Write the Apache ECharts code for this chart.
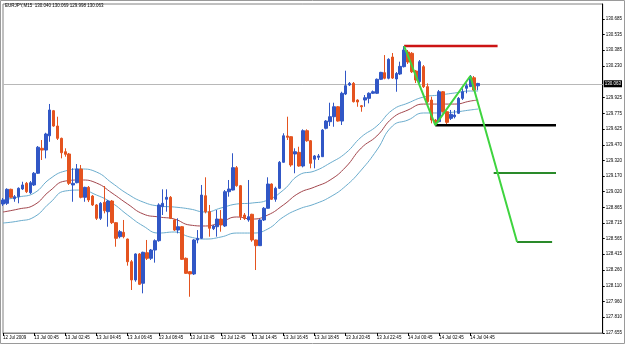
<!DOCTYPE html>
<html><head><meta charset="utf-8">
<script src="https://cdn.jsdelivr.net/npm/echarts@6/dist/echarts.min.js"></script>
<style>html,body{margin:0;padding:0;background:#fff}#c{width:625px;height:344px}</style>
</head><body><div id="c"></div>
<script>
const symbolName = 'EURJPY,M15';
const xTickLabels = ['12 Jul 2009','13 Jul 00:45','13 Jul 02:45','13 Jul 04:45','13 Jul 06:45','13 Jul 08:45','13 Jul 10:45','13 Jul 12:45','13 Jul 14:45','13 Jul 16:45','13 Jul 18:45','13 Jul 20:45','13 Jul 22:45','14 Jul 00:45','14 Jul 02:45','14 Jul 04:45'];
const yTickValues = [130.685,130.535,130.385,130.230,129.925,129.775,129.625,129.470,129.320,129.170,129.020,128.865,128.715,128.565,128.415,128.260,128.110,127.960,127.810,127.655];
// [open, close, low, high]
const ohlc = [
[128.899,128.938,128.880,128.957],[128.906,129.041,128.890,129.051],[129.041,128.964,128.954,129.047],[128.950,128.970,128.921,128.986],
[128.970,129.051,128.906,129.060],[129.044,129.083,129.034,129.114],[129.099,129.018,129.005,129.112],[129.008,129.105,128.996,129.121],
[129.083,129.196,129.073,129.208],[129.196,129.447,129.189,129.459],[129.437,129.420,129.324,129.517],[129.420,129.575,129.340,129.587],
[129.558,129.807,129.500,129.865],[129.800,129.652,129.645,129.807],[129.652,129.533,129.517,129.742],[129.533,129.394,129.340,129.540],
[129.404,129.379,129.356,129.437],[129.382,129.099,129.083,129.392],[129.083,129.099,128.921,129.244],[129.105,129.237,129.099,129.285],
[129.237,128.964,128.954,129.276],[128.964,129.060,128.921,129.066],[129.060,128.938,128.918,129.073],[128.976,128.890,128.880,128.986],
[128.890,128.761,128.745,128.899],[128.761,128.906,128.745,128.918],[128.916,128.834,128.809,129.073],[128.825,128.928,128.680,128.938],
[128.928,128.719,128.706,128.938],[128.719,128.568,128.487,128.725],[128.584,128.632,128.568,128.648],[128.626,128.584,128.568,128.745],
[128.561,128.342,128.304,128.565],[128.342,128.166,128.069,128.359],[128.166,128.417,128.149,128.423],[128.417,128.124,128.117,128.426],
[128.134,128.433,128.037,128.439],[128.429,128.375,128.359,128.552],[128.375,128.455,128.359,128.465],[128.455,128.545,128.333,128.558],
[128.545,128.890,128.535,128.906],[128.873,128.906,128.793,129.041],[128.945,128.964,128.825,129.041],[128.964,128.761,128.754,128.976],
[128.745,128.648,128.639,128.754],[128.648,128.680,128.616,128.761],[128.680,128.365,128.359,128.687],[128.375,128.230,128.224,128.383],
[128.246,128.224,128.004,128.252],[128.224,128.552,128.214,128.561],[128.552,128.568,128.520,128.648],[128.568,128.986,128.561,129.083],
[128.979,128.825,128.809,129.157],[128.825,128.665,128.584,128.890],[128.661,128.687,128.648,128.697],[128.680,128.754,128.584,128.841],
[128.754,128.697,128.632,128.841],[128.687,129.018,128.677,129.034],[129.018,129.044,128.970,129.131],[129.034,129.250,129.030,129.389],
[129.250,129.076,129.066,129.266],[129.076,128.777,128.745,129.083],[128.793,128.761,128.745,128.812],[128.745,128.777,128.728,129.131],
[128.800,128.552,128.535,128.805],[128.552,128.497,128.262,128.555],[128.497,128.745,128.494,128.754],[128.745,128.858,128.735,128.870],
[128.858,129.092,128.855,129.157],[129.092,128.945,128.938,129.099],[128.945,129.051,128.921,129.066],[129.051,129.302,129.044,129.314],
[129.302,129.558,129.298,129.582],[129.556,129.543,129.517,129.742],[129.549,129.276,129.259,129.553],[129.382,129.404,129.196,129.437],
[129.398,129.266,129.259,129.452],[129.266,129.607,129.253,129.620],[129.607,129.510,129.500,129.620],[129.510,129.292,129.244,129.517],
[129.331,129.363,129.244,129.372],[129.350,129.363,129.324,129.382],[129.356,129.613,129.353,129.623],[129.630,129.700,129.620,129.710],
[129.694,129.742,129.652,129.877],[129.742,129.838,129.645,129.877],[129.838,129.700,129.694,129.845],[129.700,129.968,129.662,129.983],
[129.961,130.041,129.951,130.186],[130.048,130.064,130.038,130.077],[130.064,129.887,129.879,130.077],[129.903,129.884,129.838,129.910],
[129.848,129.838,129.790,129.855],[129.903,129.925,129.838,129.951],[129.919,129.968,129.871,129.977],[129.968,129.983,129.961,129.995],
[129.968,130.103,129.961,130.111],[130.103,130.170,130.096,130.175],[130.167,130.113,130.103,130.337],[130.113,130.296,130.103,130.306],
[130.318,130.115,130.106,130.357],[130.106,130.159,129.983,130.173],[130.154,130.228,130.144,130.273],[130.225,130.386,130.217,130.424],
[130.366,130.270,130.251,130.386],[130.354,130.176,130.164,130.366],[130.183,130.096,130.067,130.193],[130.080,130.273,130.064,130.289],
[130.225,130.032,130.019,130.241],[130.032,129.887,129.871,130.064],[129.903,129.710,129.678,129.935],[129.710,129.678,129.662,129.720],
[129.694,129.983,129.688,130.000],[129.983,129.790,129.784,129.990],[129.790,129.688,129.668,129.797],[129.726,129.765,129.710,129.807],
[129.742,129.758,129.726,129.807],[129.775,129.919,129.768,129.932],[129.919,129.983,129.903,130.016],[130.016,130.041,129.968,130.064],
[130.032,130.128,130.029,130.144],[130.118,130.000,129.990,130.135],[130.040,130.063,129.998,130.069]
];
const maIndex = [0,4,8,12,16,20,24,28,32,36,40,44,48,52,56,60,64,68,72,76,80,84,88,92,96,100,104,108,112,116,120,122];
const maUpper = [128.938,128.967,129.005,129.141,129.218,129.237,129.208,129.102,128.996,128.918,128.880,128.870,128.851,128.822,128.861,128.899,128.909,128.938,129.034,129.179,129.218,129.295,129.391,129.546,129.652,129.807,129.874,129.932,129.951,129.971,129.990,129.990];
const maMiddle = [128.822,128.851,128.890,129.025,129.121,129.131,129.102,129.005,128.899,128.803,128.774,128.754,128.696,128.687,128.725,128.774,128.754,128.793,128.890,129.005,129.063,129.131,129.256,129.440,129.556,129.729,129.807,129.864,129.864,129.864,129.893,129.903];
const maLower = [128.716,128.735,128.774,128.909,129.025,129.034,128.986,128.909,128.793,128.687,128.619,128.629,128.581,128.561,128.581,128.619,128.619,128.658,128.774,128.851,128.899,128.967,129.073,129.227,129.420,129.652,129.710,129.778,129.778,129.787,129.807,129.816];
const bidPrice = 130.063;
const zigzag = [[103,130.424],[111,129.660],[120,130.135],[132,128.532]];
const redLevel = [[103,130.424],[127,130.424]];
const blackLevel = [[111,129.660],[142,129.660]];
const greenLevelA = [[126,129.198],[142,129.198]];
const greenLevelB = [[132,128.532],[141,128.532]];
const totalSlots = 155;

const mon = ['Jan','Feb','Mar','Apr','May','Jun','Jul','Aug','Sep','Oct','Nov','Dec'];
const categories = [];
const t0 = Date.UTC(2009,6,12,22,45);
for (let i = 0; i < totalSlots; i++) {
  const d = new Date(t0 + i * 15 * 60000);
  categories.push(d.getUTCDate() + ' ' + mon[d.getUTCMonth()] + ' ' + String(d.getUTCHours()).padStart(2,'0') + ':' + String(d.getUTCMinutes()).padStart(2,'0'));
}
const pair = (idx, vals) => idx.map((k, j) => [k, vals[j]]);
const last = ohlc[ohlc.length - 1];
const font = 'Liberation Sans';
const tickShown = (i) => i % 8 === 0 && i / 8 < xTickLabels.length;

const chart = echarts.init(document.getElementById('c'), null, {renderer: 'canvas'});
chart.setOption({
  animation: false,
  backgroundColor: '#fff',
  grid: {left: 2, right: 20, top: 4, bottom: 11, show: true, borderColor: '#808080', borderWidth: 1},
  graphic: [
    {type: 'rect', shape: {x: 0.5, y: 0.5, width: 624, height: 343}, style: {fill: 'none', stroke: '#9a9a9a', lineWidth: 1}, silent: true},
    {type: 'text', left: 5, top: 3, style: {text: symbolName + '  ' + [last[0], last[3], last[2], last[1]].map(v => v.toFixed(3)).join(' '), fontSize: 4.5, fontFamily: font, fill: '#000'}}
  ],
  xAxis: {
    type: 'category', data: categories, boundaryGap: false,
    axisLine: {show: true, lineStyle: {color: '#808080', width: 1}},
    axisTick: {show: true, interval: tickShown, length: 3, lineStyle: {color: '#000'}},
    axisLabel: {interval: tickShown, formatter: (v, i) => xTickLabels[i / 8] || '', align: 'left', fontSize: 4.5, fontFamily: font, color: '#000', margin: 2},
    splitLine: {show: false}
  },
  yAxis: {
    type: 'value', position: 'right', min: 127.654, max: 130.830,
    axisLine: {show: true, lineStyle: {color: '#000', width: 1}},
    axisTick: {show: true, length: 2, customValues: yTickValues, lineStyle: {color: '#000'}},
    axisLabel: {customValues: yTickValues, formatter: v => v.toFixed(3), fontSize: 4.5, fontFamily: font, color: '#000', margin: 3},
    splitLine: {show: false}
  },
  series: [
    {type: 'line', data: pair(maIndex, maUpper), smooth: true, symbol: 'none', lineStyle: {color: '#6aaccd', width: 1}, z: 1},
    {type: 'line', data: pair(maIndex, maMiddle), smooth: true, symbol: 'none', lineStyle: {color: '#a2454c', width: 1}, z: 1},
    {type: 'line', data: pair(maIndex, maLower), smooth: true, symbol: 'none', lineStyle: {color: '#6aaccd', width: 1}, z: 1},
    {type: 'candlestick', data: ohlc, barWidth: 3, z: 3,
      itemStyle: {color: '#3157c6', color0: '#e4531f', borderColor: '#3157c6', borderColor0: '#e4531f', borderWidth: 1},
      markLine: {symbol: 'none', silent: true, animation: false, z: 2,
        lineStyle: {color: '#b8b8b8', type: 'solid', width: 1},
        label: {position: 'end', distance: 1, formatter: bidPrice.toFixed(3), backgroundColor: '#000', color: '#fff', fontSize: 4.5, fontFamily: font, padding: [1, 1, 1, 1]},
        data: [{yAxis: bidPrice}]}
    },
    {type: 'line', data: redLevel, symbol: 'none', lineStyle: {color: '#cc1414', width: 2.5}, z: 5},
    {type: 'line', data: blackLevel, symbol: 'none', lineStyle: {color: '#000', width: 2.5}, z: 5},
    {type: 'line', data: greenLevelA, symbol: 'none', lineStyle: {color: '#2a8a2a', width: 2}, z: 5},
    {type: 'line', data: greenLevelB, symbol: 'none', lineStyle: {color: '#2a8a2a', width: 2}, z: 5},
    {type: 'line', data: zigzag, symbol: 'none', lineStyle: {color: '#3fd43f', width: 2}, z: 6}
  ]
});
</script></body></html>
